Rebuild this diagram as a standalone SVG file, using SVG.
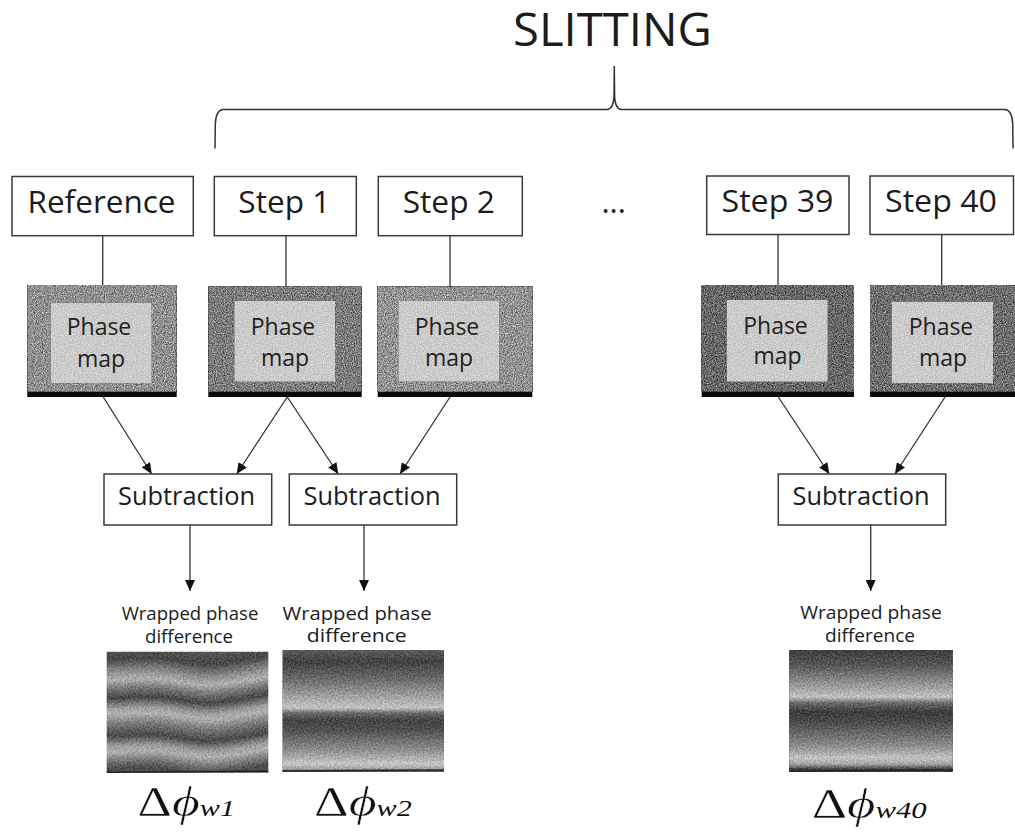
<svg xmlns="http://www.w3.org/2000/svg" width="1015" height="834" viewBox="0 0 1015 834">
  <style>
    .box { fill: #ffffff; stroke: #3a3a3a; stroke-width: 1.5; }
    .lbl { font-family: "Open Sans", "Noto Sans", "DejaVu Sans", sans-serif; fill: #1c1c1c; text-anchor: middle; }
    .title { font-size: 45px; }
    .step { font-size: 31px; }
    .pm { font-size: 23px; fill: #222222; }
    .sub { font-size: 25px; }
    .wr { font-size: 18px; }
    .conn { stroke: #333333; stroke-width: 1.3; fill: none; }
    .arr { marker-end: url(#ah); }
    .brace { stroke: #333333; stroke-width: 1.5; fill: none; }
    .bar { fill: #0a0a0a; }
    .inner { fill: #cbcbcb; }
    .edge { stroke: #222222; stroke-width: 1.6; fill: none; }
    .math { font-family: "Liberation Serif", serif; fill: #111111; }
    .big { font-size: 43px; stroke: #ffffff; stroke-width: 0.45px; }
    .idx { font-size: 24px; font-style: italic; }
  </style>
  <defs>
    <marker id="ah" markerUnits="userSpaceOnUse" markerWidth="11" markerHeight="10" refX="11" refY="5" orient="auto">
      <path d="M0,0 L11,5 L0,10 Z" fill="#111111"/>
    </marker>
    <!-- speckle grain added onto a filled shape -->
    <filter id="grain" x="0" y="0" width="1" height="1" color-interpolation-filters="sRGB">
      <feTurbulence type="fractalNoise" baseFrequency="0.9" numOctaves="2" seed="3" result="n"/>
      <feColorMatrix in="n" type="matrix" values="1 0 0 0 0  1 0 0 0 0  1 0 0 0 0  0 0 0 0 1" result="g"/>
      <feComposite in="SourceGraphic" in2="g" operator="arithmetic" k1="0" k2="1" k3="0.9" k4="-0.45"/>
    </filter>
    <filter id="grainSoft" x="0" y="0" width="1" height="1" color-interpolation-filters="sRGB">
      <feTurbulence type="fractalNoise" baseFrequency="0.9" numOctaves="2" seed="11" result="n"/>
      <feColorMatrix in="n" type="matrix" values="1 0 0 0 0  1 0 0 0 0  1 0 0 0 0  0 0 0 0 1" result="g"/>
      <feComposite in="SourceGraphic" in2="g" operator="arithmetic" k1="0" k2="1" k3="0.35" k4="-0.175"/>
    </filter>
    <filter id="grainMid" x="0" y="0" width="1" height="1" color-interpolation-filters="sRGB">
      <feTurbulence type="fractalNoise" baseFrequency="0.6" numOctaves="2" seed="5" result="n"/>
      <feColorMatrix in="n" type="matrix" values="1 0 0 0 0  1 0 0 0 0  1 0 0 0 0  0 0 0 0 1" result="g"/>
      <feComposite in="SourceGraphic" in2="g" operator="arithmetic" k1="0" k2="1" k3="0.38" k4="-0.19"/>
    </filter>
    <!-- wavy fringes: vertical displacement driven by x-only noise, then grain -->
    <filter id="wave" x="0" y="0" width="1" height="1" color-interpolation-filters="sRGB">
      <feTurbulence type="fractalNoise" baseFrequency="0.012 0" numOctaves="1" seed="4" result="w"/>
      <feDisplacementMap in="SourceGraphic" in2="w" scale="34" xChannelSelector="G" yChannelSelector="R" result="d"/>
      <feTurbulence type="fractalNoise" baseFrequency="0.6" numOctaves="2" seed="9" result="n"/>
      <feColorMatrix in="n" type="matrix" values="1 0 0 0 0  1 0 0 0 0  1 0 0 0 0  0 0 0 0 1" result="g"/>
      <feComposite in="d" in2="g" operator="arithmetic" k1="0" k2="1" k3="0.38" k4="-0.19"/>
    </filter>
    <linearGradient id="gW1" gradientUnits="userSpaceOnUse" x1="0" y1="640" x2="0" y2="785">
      <stop offset="0" stop-color="#5e5e5e"/>
      <stop offset="0.131" stop-color="#474747"/>
      <stop offset="0.221" stop-color="#8e8e8e"/>
      <stop offset="0.276" stop-color="#b0b0b0"/>
      <stop offset="0.331" stop-color="#7a7a7a"/>
      <stop offset="0.400" stop-color="#464646"/>
      <stop offset="0.469" stop-color="#9a9a9a"/>
      <stop offset="0.510" stop-color="#b2b2b2"/>
      <stop offset="0.579" stop-color="#7a7a7a"/>
      <stop offset="0.662" stop-color="#484848"/>
      <stop offset="0.731" stop-color="#9c9c9c"/>
      <stop offset="0.772" stop-color="#b0b0b0"/>
      <stop offset="0.828" stop-color="#7c7c7c"/>
      <stop offset="0.883" stop-color="#4e4e4e"/>
      <stop offset="1" stop-color="#505050"/>
    </linearGradient>
    <linearGradient id="gW2" gradientUnits="userSpaceOnUse" x1="0" y1="650" x2="0" y2="772">
      <stop offset="0" stop-color="#5a5a5a"/>
      <stop offset="0.098" stop-color="#424242"/>
      <stop offset="0.246" stop-color="#6c6c6c"/>
      <stop offset="0.410" stop-color="#acacac"/>
      <stop offset="0.475" stop-color="#c2c2c2"/>
      <stop offset="0.516" stop-color="#6a6a6a"/>
      <stop offset="0.574" stop-color="#434343"/>
      <stop offset="0.656" stop-color="#505050"/>
      <stop offset="0.820" stop-color="#8e8e8e"/>
      <stop offset="0.934" stop-color="#c6c6c6"/>
      <stop offset="0.975" stop-color="#a0a0a0"/>
      <stop offset="1" stop-color="#555555"/>
    </linearGradient>
    <linearGradient id="gW40" gradientUnits="userSpaceOnUse" x1="0" y1="650" x2="0" y2="772">
      <stop offset="0" stop-color="#3e3e3e"/>
      <stop offset="0.123" stop-color="#555555"/>
      <stop offset="0.328" stop-color="#a8a8a8"/>
      <stop offset="0.385" stop-color="#c2c2c2"/>
      <stop offset="0.434" stop-color="#6a6a6a"/>
      <stop offset="0.508" stop-color="#3b3b3b"/>
      <stop offset="0.590" stop-color="#4a4a4a"/>
      <stop offset="0.779" stop-color="#8a8a8a"/>
      <stop offset="0.885" stop-color="#c2c2c2"/>
      <stop offset="0.934" stop-color="#a8a8a8"/>
      <stop offset="0.975" stop-color="#444444"/>
      <stop offset="1" stop-color="#333333"/>
    </linearGradient>
    <clipPath id="clipW1"><rect x="106.7" y="651.7" width="161.6" height="121"/></clipPath>
  </defs>

  <!-- title and brace -->
  <g id="title">
    <text class="lbl title" x="612.5" y="46" textLength="199" lengthAdjust="spacingAndGlyphs">SLITTING</text>
    <path class="brace" d="M215,148.5 L215.3,124 Q216,110 223,109.5 L607,109.5 Q613.5,109 614,96 L614.3,66 L614.6,96 Q615,109 621.5,109.5 L1005,109.5 Q1012,110 1012.7,124 L1013,148.5"/>
  </g>

  <!-- connectors -->
  <g id="connectors">
    <line class="conn" x1="102.7" y1="236" x2="102.7" y2="285"/>
    <line class="conn" x1="286" y1="236" x2="286" y2="286.7"/>
    <line class="conn" x1="450" y1="236" x2="450" y2="286.7"/>
    <line class="conn" x1="778" y1="234.5" x2="778" y2="285"/>
    <line class="conn" x1="941.7" y1="234.5" x2="941.7" y2="285"/>

    <line class="conn arr" x1="103.3" y1="397" x2="151.7" y2="474"/>
    <line class="conn arr" x1="287.3" y1="397" x2="236.7" y2="474"/>
    <line class="conn arr" x1="287.3" y1="397" x2="338.3" y2="474"/>
    <line class="conn arr" x1="450" y1="397" x2="400" y2="474"/>
    <line class="conn arr" x1="778.3" y1="397" x2="829.3" y2="474"/>
    <line class="conn arr" x1="945" y1="397" x2="895" y2="474"/>

    <line class="conn arr" x1="190" y1="525" x2="190" y2="591"/>
    <line class="conn arr" x1="364" y1="525" x2="364" y2="591"/>
    <line class="conn arr" x1="870.7" y1="525" x2="870.7" y2="591"/>
  </g>

  <!-- acquisition steps -->
  <g id="step-ref">
    <rect class="box" x="12" y="176.5" width="181.3" height="59.2"/>
    <text class="lbl step" x="101.5" y="213" textLength="148" lengthAdjust="spacingAndGlyphs">Reference</text>
  </g>
  <g id="step-1">
    <rect class="box" x="214.3" y="176.5" width="142" height="59.2"/>
    <text class="lbl step" x="284.3" y="213" textLength="92" lengthAdjust="spacingAndGlyphs">Step 1</text>
  </g>
  <g id="step-2">
    <rect class="box" x="378.3" y="176.5" width="144" height="59.2"/>
    <text class="lbl step" x="448.8" y="213" textLength="92.3" lengthAdjust="spacingAndGlyphs">Step 2</text>
  </g>
  <g id="ellipsis">
    <text class="lbl step" x="613.7" y="213">...</text>
  </g>
  <g id="step-39">
    <rect class="box" x="706.7" y="176" width="142.3" height="58.5"/>
    <text class="lbl step" x="777.5" y="212" textLength="112" lengthAdjust="spacingAndGlyphs">Step 39</text>
  </g>
  <g id="step-40">
    <rect class="box" x="870" y="176" width="143.5" height="58.5"/>
    <text class="lbl step" x="941" y="212" textLength="112" lengthAdjust="spacingAndGlyphs">Step 40</text>
  </g>

  <!-- phase maps -->
  <g id="pm-ref">
    <rect x="27.3" y="285" width="149.4" height="107" fill="#8f8f8f" filter="url(#grain)"/>
    <rect class="bar" x="27.3" y="391.7" width="149.4" height="5.3"/>
    <rect class="inner" x="50.7" y="302.7" width="101" height="80.6" filter="url(#grainSoft)"/>
    <text class="lbl pm" x="99" y="335">Phase</text>
    <text class="lbl pm" x="101" y="366.5">map</text>
  </g>
  <g id="pm-1">
    <rect x="208.3" y="286.7" width="153.4" height="105.3" fill="#7c7c7c" filter="url(#grain)"/>
    <rect class="bar" x="208.3" y="391.7" width="153.4" height="5.3"/>
    <rect class="inner" x="234.3" y="300.7" width="100.7" height="81" filter="url(#grainSoft)"/>
    <text class="lbl pm" x="283" y="334.5">Phase</text>
    <text class="lbl pm" x="285" y="366">map</text>
  </g>
  <g id="pm-2">
    <rect x="377.7" y="286.7" width="154.6" height="105.3" fill="#929292" filter="url(#grain)"/>
    <rect class="bar" x="377.7" y="391.7" width="154.6" height="5.3"/>
    <rect class="inner" x="398.3" y="301" width="101" height="80.7" filter="url(#grainSoft)"/>
    <text class="lbl pm" x="447" y="334.5">Phase</text>
    <text class="lbl pm" x="449" y="366">map</text>
  </g>
  <g id="pm-39">
    <rect x="701.7" y="285" width="152.3" height="107" fill="#676767" filter="url(#grain)"/>
    <rect class="bar" x="701.7" y="391.7" width="152.3" height="5.3"/>
    <rect class="inner" x="726.7" y="300" width="101" height="81.7" filter="url(#grainSoft)"/>
    <text class="lbl pm" x="775.5" y="333.5">Phase</text>
    <text class="lbl pm" x="777.5" y="364">map</text>
  </g>
  <g id="pm-40">
    <rect x="870" y="285" width="145" height="107" fill="#6e6e6e" filter="url(#grain)"/>
    <rect class="bar" x="870" y="391.7" width="145" height="5.3"/>
    <rect class="inner" x="891.7" y="301.7" width="101.3" height="81.3" filter="url(#grainSoft)"/>
    <text class="lbl pm" x="941" y="334.5">Phase</text>
    <text class="lbl pm" x="943" y="365.5">map</text>
  </g>

  <!-- subtraction stages -->
  <g id="sub-1">
    <rect class="box" x="104" y="474" width="167.7" height="51"/>
    <text class="lbl sub" x="186.5" y="505" textLength="137" lengthAdjust="spacingAndGlyphs">Subtraction</text>
  </g>
  <g id="sub-2">
    <rect class="box" x="289.3" y="474" width="167.4" height="51"/>
    <text class="lbl sub" x="372" y="505" textLength="137" lengthAdjust="spacingAndGlyphs">Subtraction</text>
  </g>
  <g id="sub-40">
    <rect class="box" x="778.3" y="474" width="167.4" height="51"/>
    <text class="lbl sub" x="861" y="505" textLength="137" lengthAdjust="spacingAndGlyphs">Subtraction</text>
  </g>

  <!-- wrapped phase differences -->
  <g id="wpd-1">
    <text class="lbl wr" x="190" y="620" textLength="136.7" lengthAdjust="spacingAndGlyphs">Wrapped phase</text>
    <text class="lbl wr" x="189" y="642.5" textLength="88" lengthAdjust="spacingAndGlyphs">difference</text>
    <g clip-path="url(#clipW1)">
      <rect x="96" y="636" width="184" height="152" fill="url(#gW1)" filter="url(#wave)"/>
    </g>
    <path class="edge" d="M106.7,772.2 L268.3,771.2"/>
    <text class="math" x="137.3" y="815.7" textLength="97.7" lengthAdjust="spacingAndGlyphs"><tspan class="big">Δ</tspan><tspan class="big" font-style="italic">ϕ</tspan><tspan class="idx">w1</tspan></text>
  </g>
  <g id="wpd-2">
    <text class="lbl wr" x="357" y="619.5" textLength="149" lengthAdjust="spacingAndGlyphs">Wrapped phase</text>
    <text class="lbl wr" x="356.7" y="642" textLength="100" lengthAdjust="spacingAndGlyphs">difference</text>
    <rect x="282.7" y="650" width="161.3" height="121.7" fill="url(#gW2)" filter="url(#grainMid)"/>
    <path class="edge" d="M282.7,771 L444,770"/>
    <text class="math" x="314" y="816" textLength="97.7" lengthAdjust="spacingAndGlyphs"><tspan class="big">Δ</tspan><tspan class="big" font-style="italic">ϕ</tspan><tspan class="idx">w2</tspan></text>
  </g>
  <g id="wpd-40">
    <text class="lbl wr" x="871" y="619" textLength="141.7" lengthAdjust="spacingAndGlyphs">Wrapped phase</text>
    <text class="lbl wr" x="870" y="642" textLength="90" lengthAdjust="spacingAndGlyphs">difference</text>
    <rect x="789.3" y="650" width="163.4" height="121.7" fill="url(#gW40)" filter="url(#grainMid)"/>
    <path class="edge" d="M789.3,771 L952.7,770"/>
    <text class="math" x="811.7" y="818" textLength="115" lengthAdjust="spacingAndGlyphs"><tspan class="big">Δ</tspan><tspan class="big" font-style="italic">ϕ</tspan><tspan class="idx">w40</tspan></text>
  </g>
</svg>
